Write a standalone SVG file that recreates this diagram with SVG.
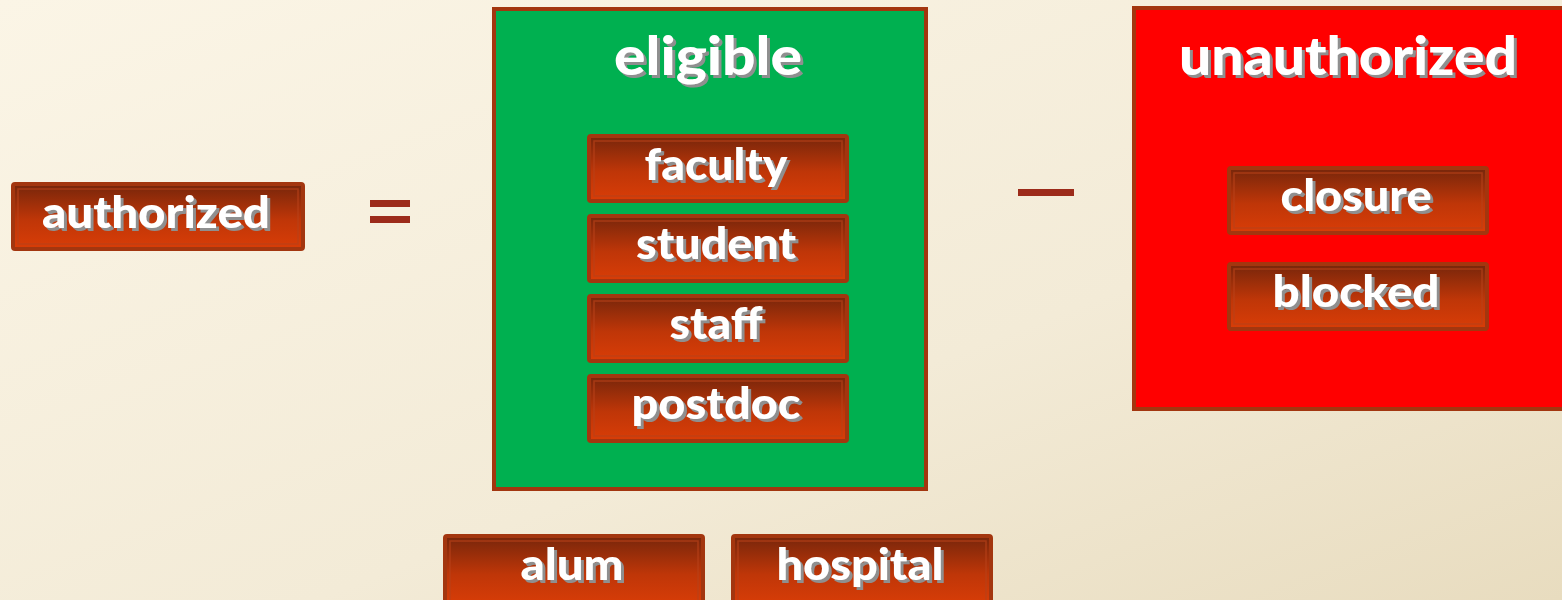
<svg xmlns="http://www.w3.org/2000/svg" width="1562" height="600" viewBox="0 0 1562 600">
<defs>
<linearGradient id="bg" x1="0" y1="0" x2="1" y2="1">
<stop offset="0" stop-color="#fbf5e6"/>
<stop offset="0.6" stop-color="#f3ebd7"/>
<stop offset="1" stop-color="#e8dcbf"/>
</linearGradient>
<linearGradient id="btn" x1="0" y1="0" x2="0" y2="1">
<stop offset="0" stop-color="#76260b"/>
<stop offset="0.55" stop-color="#bf3608"/>
<stop offset="1" stop-color="#d93d07"/>
</linearGradient>
<filter id="sh" x="-10%" y="-20%" width="130%" height="150%">
<feOffset in="SourceAlpha" dx="3" dy="3" result="o"/>
<feFlood flood-color="#8f8f8f"/>
<feComposite in2="o" operator="in" result="s"/>
<feMerge><feMergeNode in="s"/><feMergeNode in="SourceGraphic"/></feMerge>
</filter>
</defs>
<style>
.box{fill:url(#btn);stroke:#a3360f;stroke-width:4}
.inner{fill:none;stroke:#b8421a;stroke-width:1.5;opacity:0.7}
.t{font-family:Lato,"Open Sans",sans-serif;font-weight:900;fill:#ffffff;text-anchor:middle;filter:url(#sh)}
.n{font-size:44px}
.h{font-size:54px}
.cont{stroke:#a3360f;stroke-width:4}
.op{fill:#9c2b1a}
</style>
<rect x="0" y="0" width="1562" height="600" fill="url(#bg)"/>

<g id="connectors">
<rect class="op" x="370" y="200" width="40" height="7"/>
<rect class="op" x="370" y="216" width="40" height="7"/>
<rect class="op" x="1018" y="189" width="56" height="7"/>
</g>

<g id="authorized">
<rect class="box" x="13" y="184" width="290" height="65" rx="2"/>
<rect class="inner" x="18" y="189" width="280" height="55"/>
<text class="t n" x="156" y="228" textLength="228" lengthAdjust="spacingAndGlyphs">authorized</text>
</g>

<g id="eligible">
<rect class="cont" x="494" y="9" width="432" height="480" fill="#00b050"/>
<text class="t h" x="708" y="75" textLength="188" lengthAdjust="spacingAndGlyphs">eligible</text>
</g>

<g id="faculty">
<rect class="box" x="589" y="136" width="258" height="65" rx="2"/>
<rect class="inner" x="594" y="141" width="248" height="55"/>
<text class="t n" x="716" y="180" textLength="143" lengthAdjust="spacingAndGlyphs">faculty</text>
</g>
<g id="student">
<rect class="box" x="589" y="216" width="258" height="65" rx="2"/>
<rect class="inner" x="594" y="221" width="248" height="55"/>
<text class="t n" x="716" y="259" textLength="160" lengthAdjust="spacingAndGlyphs">student</text>
</g>
<g id="staff">
<rect class="box" x="589" y="296" width="258" height="65" rx="2"/>
<rect class="inner" x="594" y="301" width="248" height="55"/>
<text class="t n" x="716" y="339" textLength="93" lengthAdjust="spacingAndGlyphs">staff</text>
</g>
<g id="postdoc">
<rect class="box" x="589" y="376" width="258" height="65" rx="2"/>
<rect class="inner" x="594" y="381" width="248" height="55"/>
<text class="t n" x="716" y="419" textLength="169" lengthAdjust="spacingAndGlyphs">postdoc</text>
</g>

<g id="unauthorized">
<rect class="cont" x="1134" y="8" width="440" height="401" fill="#ff0000"/>
<text class="t h" x="1348" y="75" textLength="338" lengthAdjust="spacingAndGlyphs">unauthorized</text>
</g>
<g id="closure">
<rect class="box" x="1229" y="168" width="258" height="65" rx="2"/>
<rect class="inner" x="1234" y="173" width="248" height="55"/>
<text class="t n" x="1356" y="211" textLength="151" lengthAdjust="spacingAndGlyphs">closure</text>
</g>
<g id="blocked">
<rect class="box" x="1229" y="264" width="258" height="65" rx="2"/>
<rect class="inner" x="1234" y="269" width="248" height="55"/>
<text class="t n" x="1356" y="307" textLength="167" lengthAdjust="spacingAndGlyphs">blocked</text>
</g>

<g id="alum">
<rect class="box" x="445" y="536" width="258" height="70" rx="2"/>
<rect class="inner" x="450" y="541" width="248" height="65"/>
<text class="t n" x="572" y="580" textLength="103" lengthAdjust="spacingAndGlyphs">alum</text>
</g>
<g id="hospital">
<rect class="box" x="733" y="536" width="258" height="70" rx="2"/>
<rect class="inner" x="738" y="541" width="248" height="65"/>
<text class="t n" x="860" y="580" textLength="167" lengthAdjust="spacingAndGlyphs">hospital</text>
</g>
</svg>
